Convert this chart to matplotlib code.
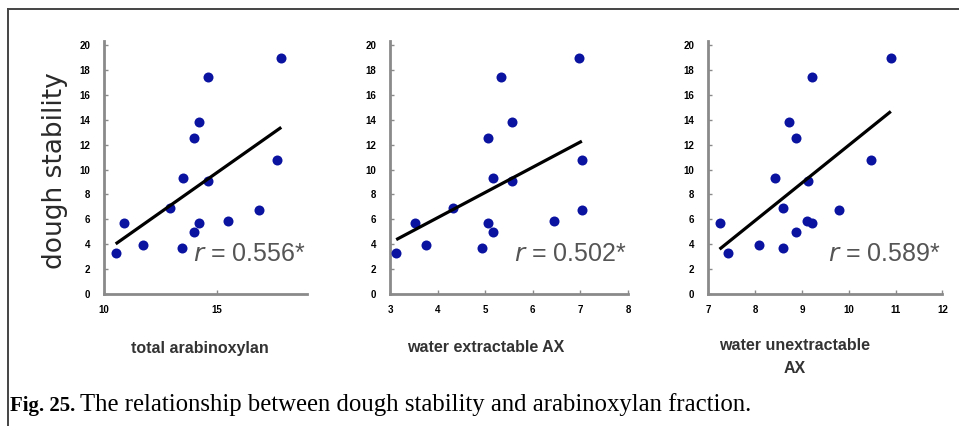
import numpy as np
import matplotlib
matplotlib.use("Agg")
import matplotlib.pyplot as plt
from matplotlib.lines import Line2D

# dough stability (same for every panel)
stability = [18.98, 17.45, 13.82, 12.56, 10.76, 9.29, 9.08, 6.93,
             6.75, 5.86, 5.68, 5.00, 5.68, 3.94, 3.72, 3.27]

total_ax = [17.86, 14.61, 14.21, 13.99, 17.66, 13.50, 14.61, 12.93,
            16.88, 15.52, 14.21, 13.97, 10.89, 11.71, 13.47, 10.52]
water_ext_ax = [6.96, 5.33, 5.56, 5.05, 7.03, 5.16, 5.56, 4.32,
                7.03, 6.45, 5.05, 5.16, 3.53, 3.76, 4.93, 3.13]
water_unext_ax = [10.90, 9.22, 8.72, 8.88, 10.47, 8.43, 9.12, 8.60,
                  9.79, 9.10, 9.22, 8.88, 7.24, 8.08, 8.60, 7.41]

panel_x = [total_ax, water_ext_ax, water_unext_ax]
panel_labels = ["total arabinoxylan", "water extractable AX", "water unextractable\nAX"]
r_values = ["0.556*", "0.502*", "0.589*"]
x_limits = [(10, 19), (3, 8), (7, 12)]
x_ticks = [[10, 15], [3, 4, 5, 6, 7, 8], [7, 8, 9, 10, 11, 12]]
y_ticks = list(range(0, 21, 2))

plt.rcParams['font.family'] = ['Liberation Sans', 'DejaVu Sans']

fig = plt.figure(figsize=(9.59, 4.26), dpi=100)

# axes rectangles (left, bottom, width, height) in figure fraction
rects = [(0.1084, 0.3099, 0.2117, 0.5927),
         (0.4067, 0.3099, 0.2482, 0.5927),
         (0.7386, 0.3099, 0.2440, 0.5927)]

axis_col = "#8a8a8a"
dot_col = "#0a12a0"

for i in range(3):
    ax = fig.add_axes(rects[i])
    xs = np.array(panel_x[i])
    ys = np.array(stability)
    ax.scatter(xs, ys, s=52, color=dot_col, zorder=3, linewidths=0)
    k, b = np.polyfit(xs, ys, 1)
    lx = np.array([xs.min(), xs.max()])
    ax.plot(lx, k * lx + b, color="black", lw=2.3, zorder=4, solid_capstyle="butt")

    ax.set_xlim(*x_limits[i])
    ax.set_ylim(0, 20.3)
    ax.set_xticks(x_ticks[i])
    ax.set_yticks(y_ticks)
    ax.set_xticklabels([str(t) for t in x_ticks[i]], fontsize=7, fontweight="bold")
    ax.set_yticklabels([str(t) for t in y_ticks], fontsize=7, fontweight="bold")
    ax.tick_params(axis="both", direction="in", length=3, width=1, color=axis_col)
    ax.tick_params(axis="y", pad=10)
    ax.tick_params(axis="x", pad=8)

    for s in ["top", "right"]:
        ax.spines[s].set_visible(False)
    for s in ["left", "bottom"]:
        ax.spines[s].set_color(axis_col)
        ax.spines[s].set_linewidth(2)
    ax.patch.set_alpha(0)

    ax.text(0.995, 0.16, r"$\it{r}$ = " + r_values[i], transform=ax.transAxes,
            ha="right", va="center", fontsize=18, color="#555555")

# y label
fig.text(55 / 959, 1 - 171 / 426, "dough stability", rotation=90, ha="center", va="center",
         fontsize=19, color="#2a2a2a", family="DejaVu Sans")

# x labels below each panel
label_xy = [(200, 348), (486, 348), (795, 357)]
for (px, py), lab in zip(label_xy, panel_labels):
    fig.text(px / 959, 1 - py / 426, lab, ha="center", va="center",
             fontsize=11.5, fontweight="bold", color="#333333", linespacing=1.6)

# caption: bold figure number, then regular text right after it
renderer = fig.canvas.get_renderer()
t_bold = fig.text(10 / 959, 1 - 411 / 426, "Fig. 25.", fontsize=15, fontweight="bold",
                  family="Liberation Serif", va="baseline", ha="left")
bb = t_bold.get_window_extent(renderer)
fig.text((bb.x1 + 5) / 959, 1 - 411 / 426,
         "The relationship between dough stability and arabinoxylan fraction.",
         fontsize=17.8, family="Liberation Serif", va="baseline", ha="left")

# frame lines (top and left only)
fig.add_artist(Line2D([8 / 959, 1], [1 - 9 / 426, 1 - 9 / 426], color="#444444", lw=1.4))
fig.add_artist(Line2D([8 / 959, 8 / 959], [0, 1 - 9 / 426], color="#444444", lw=1.4))

fig.savefig("out.png", dpi=100)
